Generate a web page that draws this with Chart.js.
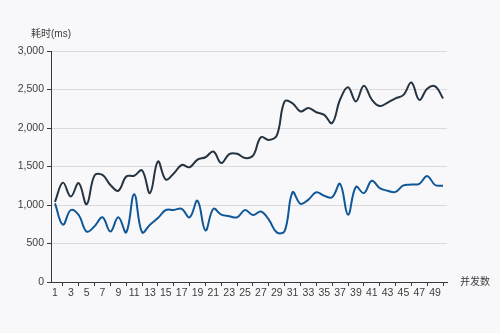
<html><head><meta charset="UTF-8"/>
<title>并发耗时</title>
<script src="https://cdn.jsdelivr.net/npm/chart.js"></script>
<style>
* { margin: 0; padding: 0; box-sizing: border-box; }
body { background: #f8f8fa; width: 500px; height: 333px; overflow: hidden; }
.chart-box { position: relative; width: 500px; height: 333px; }
</style>
</head>
<body>
<div class="chart-box">
    <canvas id="latencyChart" width="500" height="333"></canvas>
</div>

<script>
// 并发数 1..50
const concurrency = [
    1, 2, 3, 4, 5, 6, 7, 8, 9, 10,
    11, 12, 13, 14, 15, 16, 17, 18, 19, 20,
    21, 22, 23, 24, 25, 26, 27, 28, 29, 30,
    31, 32, 33, 34, 35, 36, 37, 38, 39, 40,
    41, 42, 43, 44, 45, 46, 47, 48, 49, 50
];

// 耗时(ms) - 深色曲线
const seriesDark = [
    1040, 1290, 1110, 1285, 1010, 1385, 1390, 1260, 1185, 1370,
    1380, 1450, 1155, 1565, 1330, 1410, 1520, 1490, 1590, 1620,
    1695, 1545, 1660, 1665, 1610, 1640, 1880, 1845, 1900, 2345,
    2320, 2215, 2260, 2205, 2170, 2065, 2370, 2530, 2345, 2550,
    2370, 2285, 2330, 2385, 2430, 2590, 2365, 2510, 2540, 2385
];

// 耗时(ms) - 蓝色曲线
const seriesBlue = [
    1020, 745, 935, 870, 655, 725, 840, 655, 840, 645,
    1140, 645, 745, 830, 935, 935, 950, 840, 1055, 670,
    950, 875, 855, 840, 935, 870, 915, 810, 645, 660,
    1165, 1015, 1070, 1165, 1120, 1100, 1275, 875, 1235, 1155,
    1315, 1220, 1185, 1170, 1255, 1265, 1275, 1375, 1260, 1250
];

const yTicks = [0, 500, 1000, 1500, 2000, 2500, 3000];

const FONT = "'Liberation Sans', 'Noto Sans CJK SC', sans-serif";
const TEXT = '#3d3d3d';
const AXIS = '#3a3a3a';

// 轴名称
const axisNames = {
    id: 'axisNames',
    afterDraw(chart) {
        const { ctx, chartArea } = chart;
        ctx.save();
        ctx.fillStyle = TEXT;
        ctx.font = '10px ' + FONT;
        ctx.textBaseline = 'middle';
        ctx.textAlign = 'center';
        ctx.fillText('耗时(ms)', chartArea.left, chartArea.top - 17);
        ctx.textAlign = 'left';
        ctx.fillText('并发数', chartArea.right + 13, chartArea.bottom);
        ctx.restore();
    }
};

const ctx = document.getElementById('latencyChart').getContext('2d');
new Chart(ctx, {
    type: 'line',
    data: {
        labels: concurrency,
        datasets: [
            {
                data: seriesDark,
                borderColor: '#263340',
                borderWidth: 2,
                pointRadius: 0,
                tension: 0.4,
                fill: false
            },
            {
                data: seriesBlue,
                borderColor: '#0f5797',
                borderWidth: 2,
                pointRadius: 0,
                tension: 0.4,
                fill: false
            }
        ]
    },
    options: {
        responsive: false,
        animation: false,
        devicePixelRatio: 1,
        locale: 'en-US',
        layout: { padding: { left: 0, top: 51, right: 53, bottom: 31 } },
        plugins: {
            legend: { display: false },
            tooltip: { enabled: false }
        },
        scales: {
            x: {
                type: 'category',
                offset: true,
                border: { color: AXIS, width: 1 },
                grid: {
                    drawOnChartArea: false,
                    tickLength: 4,
                    color: c => (c.index % 2 === 1 ? AXIS : 'rgba(0,0,0,0)')
                },
                ticks: {
                    autoSkip: false,
                    maxRotation: 0,
                    padding: 1,
                    color: TEXT,
                    font: { family: FONT, size: 10.5 },
                    callback: (v, i) => (i % 2 === 0 ? concurrency[i] : '')
                },
                afterFit: s => { s.height = 20; }
            },
            y: {
                min: 0,
                max: 3000,
                afterBuildTicks: s => { s.ticks = yTicks.map(v => ({ value: v })); },
                border: { color: AXIS, width: 1 },
                grid: {
                    color: '#dadadd',
                    tickColor: AXIS,
                    tickLength: 4
                },
                ticks: {
                    padding: 3,
                    color: TEXT,
                    font: { family: FONT, size: 10.5 }
                },
                afterFit: s => { s.width = 51; }
            }
        }
    },
    plugins: [axisNames]
});
</script>
</body></html>
